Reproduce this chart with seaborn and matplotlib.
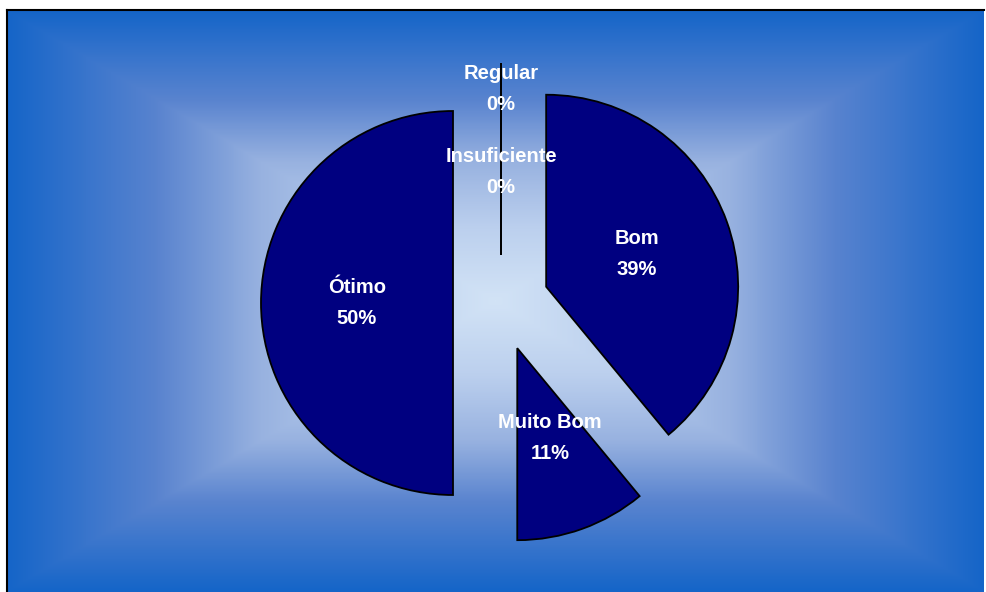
import numpy as np
import matplotlib
matplotlib.use('Agg')
import matplotlib.pyplot as plt
from matplotlib.colors import LinearSegmentedColormap
import seaborn as sns

sns.set_style('white')
plt.rcParams['font.family'] = ['Liberation Sans', 'DejaVu Sans']

# data (clockwise from the top)
categorias = ['Bom', 'Muito Bom', 'Ótimo', 'Insuficiente', 'Regular']
percentuais = [39, 11, 50, 0, 0]
rotulos_pct = ['39%', '11%', '50%', '0%', '0%']

W, H = 986, 592
fig = plt.figure(figsize=(W / 100, H / 100), dpi=100)

# background with rectangular gradient (light centre, blue edges)
grad = LinearSegmentedColormap.from_list('fundo', [
    (0.0, '#d2e3f6'), (0.25, '#bcd0ee'), (0.48, '#98b2e0'),
    (0.69, '#5a84cf'), (0.89, '#2e70cb'), (1.0, '#1565c8')])
bx0, by_top = 7, 10
bg = fig.add_axes([bx0 / W, 0, (984 - bx0) / W, (H - by_top) / H], zorder=0)
nx, ny = 500, 300
xx, yy = np.meshgrid(np.linspace(-1, 1, nx), np.linspace(-1, 1, ny))
t = np.maximum(np.abs(xx), np.abs(yy))
bg.imshow(t, cmap=grad, vmin=0, vmax=1, aspect='auto', interpolation='bilinear',
          extent=(0, 1, 0, 1))
bg.set_xlim(0, 1)
bg.set_ylim(0, 1)
bg.set_xticks([])
bg.set_yticks([])
for lado in ['right', 'bottom']:
    bg.spines[lado].set_visible(False)
for lado in ['left', 'top']:
    bg.spines[lado].set_color('black')
    bg.spines[lado].set_linewidth(1.5)

# pie axes: centre at (501, 303) px, radius ~192 px
S = 500
cx, cy = 501, 303
ax = fig.add_axes([(cx - S / 2) / W, (H - cy - S / 2) / H, S / W, S / H], zorder=1)
ax.patch.set_alpha(0)
wedges, _ = ax.pie(percentuais, startangle=90, counterclock=False,
                   explode=[0.25] * len(percentuais), colors=['#000080'] * len(percentuais),
                   wedgeprops=dict(edgecolor='black', linewidth=1.3))
L = S / (2 * 192)
ax.set_xlim(-L, L)
ax.set_ylim(-L, L)
ax.set_aspect('equal')
ax.axis('off')

# labels inside the exploded wedges
distancias = [0.5, 0.5, 0.5, 0.43, 0.865]
for w, cat, pct, d in zip(wedges, categorias, rotulos_pct, distancias):
    ang = np.deg2rad((w.theta1 + w.theta2) / 2)
    x = w.center[0] + d * w.r * np.cos(ang)
    y = w.center[1] + d * w.r * np.sin(ang)
    ax.text(x, y, f'{cat}\n{pct}', ha='center', va='center', color='white',
            fontsize=14.5, fontweight='bold', linespacing=1.8)

fig.savefig('out.png', dpi=100)
